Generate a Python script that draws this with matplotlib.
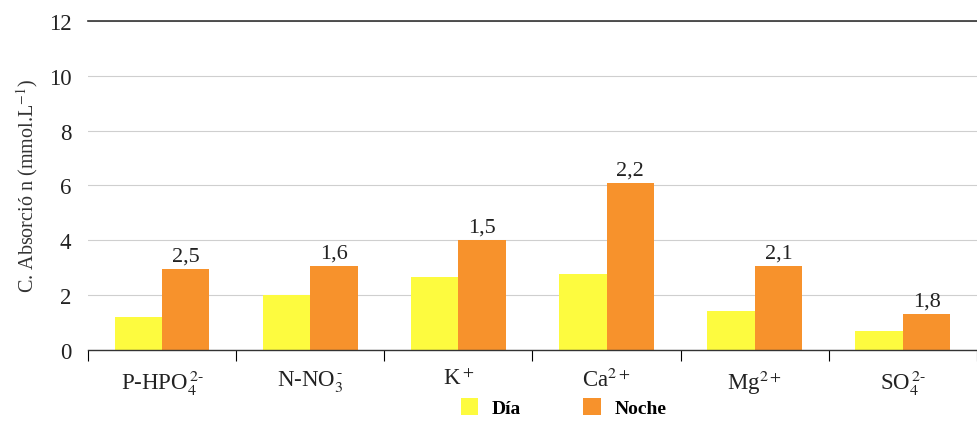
import matplotlib
matplotlib.use("Agg")
import matplotlib.pyplot as plt
import numpy as np

# datos
categorias = [r'P-HPO$_4^{\,2\text{-}}$', r'N-NO$_3^{\,\text{-}}$', r'K$^+$',
              r'Ca$^{2+}$', r'Mg$^{2+}$', r'SO$_4^{\,2\text{-}}$']
dia = [1.2, 2.0, 2.65, 2.77, 1.4, 0.7]
noche = [2.95, 3.05, 4.02, 6.09, 3.05, 1.31]
etiquetas = ['2,5', '1,6', '1,5', '2,2', '2,1', '1,8']

plt.rcParams['font.family'] = ['Liberation Serif', 'DejaVu Serif']
plt.rcParams['mathtext.fontset'] = 'stix'

fig = plt.figure(figsize=(9.77, 4.31), dpi=100)
ax = fig.add_axes([0.090, 0.186, 0.910, 0.763])

x = np.arange(len(categorias)) + 0.5
w = 0.32
ax.bar(x - w / 2, dia, w, color='#fdfb3f', label='Día', zorder=2)
bars = ax.bar(x + w / 2, noche, w, color='#f7922c', label='Noche', zorder=2)

for b, t in zip(bars, etiquetas):
    ax.text(b.get_x() + b.get_width() / 2, b.get_height() + 0.12, t,
            ha='center', va='bottom', fontsize=16, color='#222222')

ax.set_xlim(0, len(categorias))
ax.set_ylim(0, 12)
ax.set_yticks(range(0, 13, 2))
ax.yaxis.grid(True, color='#cfcfcf', lw=0.8, zorder=0)
ax.set_axisbelow(True)

ax.set_xticks(x)
ax.set_xticklabels(categorias, fontsize=16.5)
ax.set_xticks(np.arange(0, len(categorias) + 1), minor=True)
ax.tick_params(axis='x', which='major', length=0, pad=13, colors='#222222')
ax.tick_params(axis='x', which='minor', length=8, width=0.8, direction='out')
ax.tick_params(axis='y', length=0, pad=12, labelsize=16.5, colors='#222222')

for s in ['left', 'right']:
    ax.spines[s].set_visible(False)
ax.spines['top'].set_color('#333333')
ax.spines['top'].set_linewidth(1.2)
ax.spines['bottom'].set_color('#333333')
ax.spines['bottom'].set_linewidth(1.0)

ax.set_ylabel(r'C. Absorció n (mmol.L$^{-1}$)', fontsize=14.5, color='#333333', labelpad=6)

leg = fig.legend(loc='center', bbox_to_anchor=(0.577, 0.052), ncol=2, frameon=False,
                 prop={'weight': 'bold', 'size': 14}, handlelength=0.9, handleheight=0.95,
                 columnspacing=3.2, handletextpad=0.7)

fig.savefig('out.png', dpi=100)
